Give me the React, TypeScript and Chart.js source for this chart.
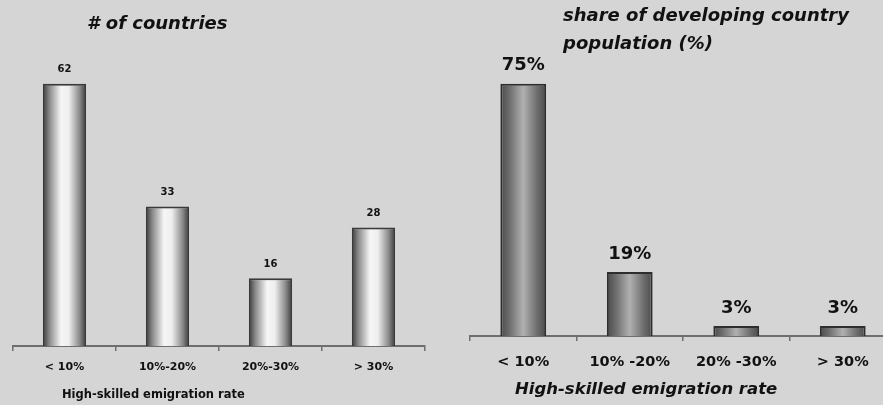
import React, { useEffect, useRef } from "react";
import { Chart, registerables } from "chart.js";

Chart.register(...registerables);

const categoriesLeft = ["< 10%", "10%-20%", "20%-30%", "> 30%"];
const countriesValues = [62, 33, 16, 28];
const countriesLabels = ["62", "33", "16", "28"];

const categoriesRight = ["< 10%", "10% -20%", "20% -30%", "> 30%"];
const shareValues = [75, 19, 3, 3];
const shareLabels = ["75%", "19%", "3%", "3%"];

const leftTitle = "# of countries";
const rightTitle = ["share of developing country", "population (%)"];
const axisTitle = "High-skilled emigration rate";

const FONT = "'DejaVu Sans', Arial, sans-serif";

function gradientFill(stops: [number, string][], catPct: number) {
  return (ctx: any) => {
    const chart = ctx.chart;
    const xs = chart.scales && chart.scales.x;
    if (!xs || !chart.chartArea) return stops[Math.floor(stops.length / 2)][1];
    const n = chart.data.labels.length;
    const c = xs.getPixelForValue(ctx.dataIndex);
    const half = ((xs.width / n) * catPct) / 2;
    if (!isFinite(c) || !isFinite(half) || half <= 0) return stops[0][1];
    const g = chart.ctx.createLinearGradient(c - half, 0, c + half, 0);
    stops.forEach(([o, col]) => g.addColorStop(o, col));
    return g;
  };
}

const valueLabelPlugin = {
  id: "valueLabels",
  afterDatasetsDraw(chart: any) {
    const o = chart.options.plugins.valueLabels;
    if (!o) return;
    const meta = chart.getDatasetMeta(0);
    const c = chart.ctx;
    c.save();
    c.font = o.font;
    c.fillStyle = "#111";
    c.textAlign = "center";
    c.textBaseline = "middle";
    meta.data.forEach((el: any, i: number) => {
      c.fillText(o.labels[i], el.x, el.y - o.offset);
    });
    c.restore();
  },
};

type Cfg = {
  labels: string[];
  values: number[];
  valueLabels: string[];
  max: number;
  catPct: number;
  stops: [number, string][];
  border: string;
  pad: { left: number; right: number; top: number };
  axisHeight: number;
  tickFont: number;
  tickPadding: number;
  labelFont: string;
  labelOffset: number;
  width: number;
};

function BarChart({ cfg }: { cfg: Cfg }) {
  const ref = useRef<HTMLCanvasElement>(null);
  useEffect(() => {
    if (!ref.current) return;
    const chart = new Chart(ref.current, {
      type: "bar",
      data: {
        labels: cfg.labels,
        datasets: [
          {
            data: cfg.values,
            backgroundColor: gradientFill(cfg.stops, cfg.catPct) as any,
            borderColor: cfg.border,
            borderWidth: 2,
            barPercentage: 1,
            categoryPercentage: cfg.catPct,
          },
        ],
      },
      options: {
        responsive: false,
        animation: false,
        layout: { padding: { left: cfg.pad.left, right: cfg.pad.right, top: cfg.pad.top, bottom: 0 } },
        plugins: {
          legend: { display: false },
          tooltip: { enabled: false },
          valueLabels: { labels: cfg.valueLabels, font: cfg.labelFont, offset: cfg.labelOffset },
        } as any,
        scales: {
          x: {
            grid: {
              display: true,
              drawOnChartArea: false,
              drawTicks: true,
              tickLength: 5,
              offset: true,
              color: "#6e6e6e",
              lineWidth: 1.5,
            },
            border: { display: true, color: "#6e6e6e", width: 2 },
            ticks: {
              color: "#111",
              padding: cfg.tickPadding,
              maxRotation: 0,
              autoSkip: false,
              font: { family: FONT, weight: "bold", size: cfg.tickFont },
            },
            afterFit: (scale: any) => {
              scale.height = cfg.axisHeight;
            },
          },
          y: { display: false, min: 0, max: cfg.max },
        },
      },
      plugins: [valueLabelPlugin],
    });
    return () => chart.destroy();
  }, []);
  return <canvas ref={ref} width={cfg.width} height={405} style={{ display: "block" }} />;
}

const leftCfg: Cfg = {
  labels: categoriesLeft,
  values: countriesValues,
  valueLabels: countriesLabels,
  max: 70,
  catPct: 0.42,
  stops: [
    [0, "#3a3a3a"],
    [0.15, "#8a8a8a"],
    [0.42, "#f6f6f6"],
    [0.6, "#eeeeee"],
    [0.85, "#8a8a8a"],
    [1, "#3a3a3a"],
  ],
  border: "#3a3a3a",
  pad: { left: 13, right: 15, top: 50 },
  axisHeight: 59,
  tickFont: 11,
  tickPadding: 10,
  labelFont: `bold 10px ${FONT}`,
  labelOffset: 14,
  width: 440,
};

const rightCfg: Cfg = {
  labels: categoriesRight,
  values: shareValues,
  valueLabels: shareLabels,
  max: 85,
  catPct: 0.43,
  stops: [
    [0, "#4a4a4a"],
    [0.2, "#6e6e6e"],
    [0.5, "#b0b0b0"],
    [0.8, "#6e6e6e"],
    [1, "#4a4a4a"],
  ],
  border: "#2e2e2e",
  pad: { left: 30, right: 4, top: 50 },
  axisHeight: 69,
  tickFont: 14.5,
  tickPadding: 13,
  labelFont: `bold 18px ${FONT}`,
  labelOffset: 18,
  width: 460,
};

export default function App() {
  return (
    <div
      style={{
        position: "fixed",
        left: 0,
        top: 0,
        width: 883,
        height: 405,
        overflow: "hidden",
        background: "#d5d5d5",
        fontFamily: FONT,
        color: "#111",
      }}
    >
      <div style={{ position: "absolute", left: 0, top: 0 }}>
        <BarChart cfg={leftCfg} />
      </div>
      <div style={{ position: "absolute", left: 440, top: 0 }}>
        <BarChart cfg={rightCfg} />
      </div>
      <div
        style={{
          position: "absolute",
          left: 87,
          top: 13,
          fontSize: 18,
          lineHeight: "20px",
          fontWeight: "bold",
          fontStyle: "italic",
          whiteSpace: "nowrap",
        }}
      >
        {leftTitle}
      </div>
      <div
        style={{
          position: "absolute",
          left: 563,
          top: 1,
          fontSize: 18,
          lineHeight: "28px",
          fontWeight: "bold",
          fontStyle: "italic",
          whiteSpace: "nowrap",
        }}
      >
        {rightTitle.map((t, i) => (
          <div key={i}>{t}</div>
        ))}
      </div>
      <div
        style={{
          position: "absolute",
          left: 62,
          top: 387,
          fontSize: 11.5,
          lineHeight: "14px",
          fontWeight: "bold",
          whiteSpace: "nowrap",
        }}
      >
        {axisTitle}
      </div>
      <div
        style={{
          position: "absolute",
          left: 515,
          top: 379,
          fontSize: 16.5,
          lineHeight: "19px",
          fontWeight: "bold",
          fontStyle: "italic",
          whiteSpace: "nowrap",
        }}
      >
        {axisTitle}
      </div>
    </div>
  );
}
